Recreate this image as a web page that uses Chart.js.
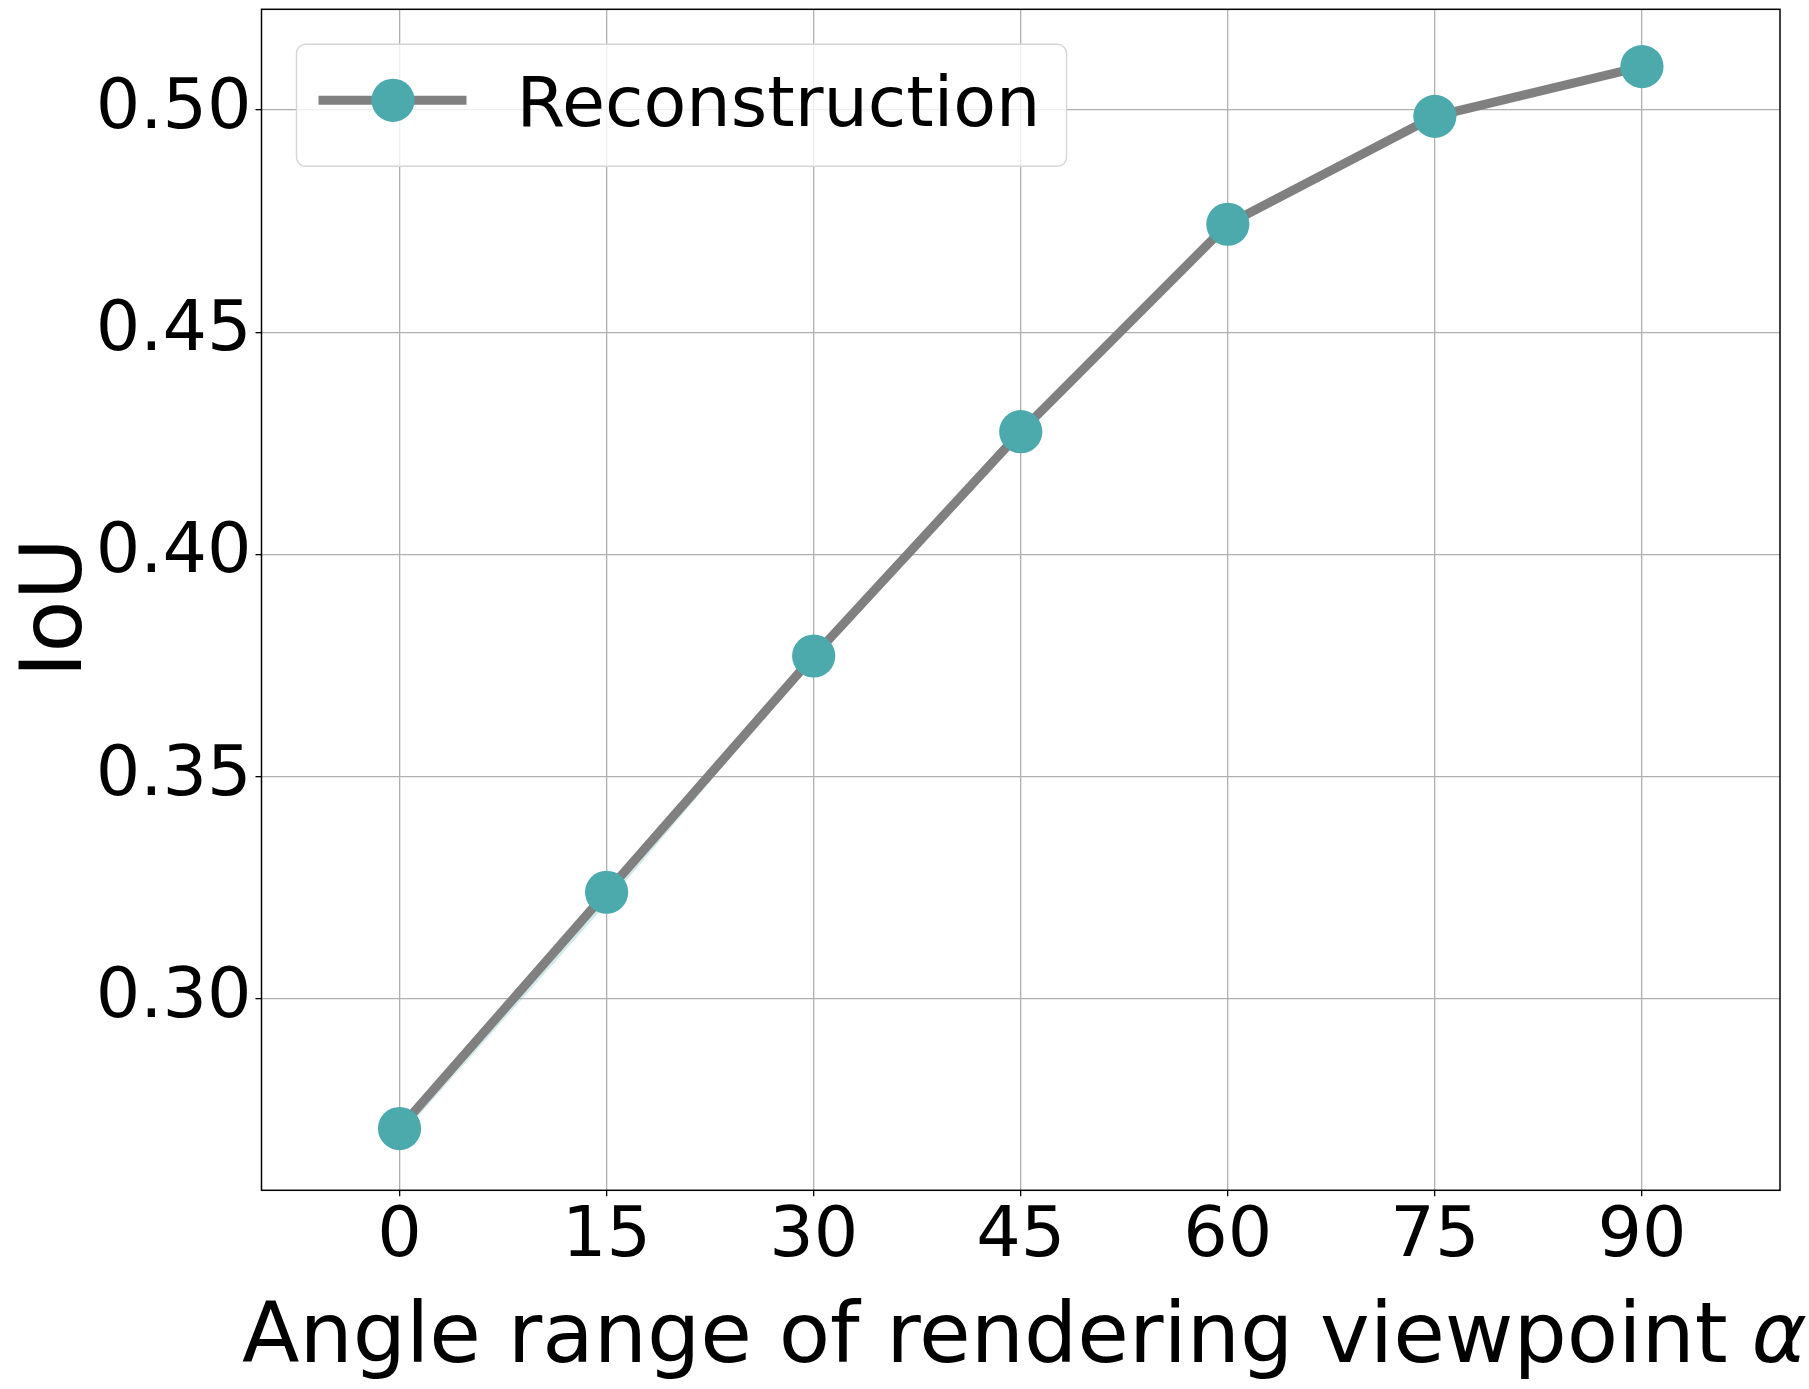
<!DOCTYPE html>
<html>
<head>
<meta charset="utf-8">
<script src="https://cdn.jsdelivr.net/npm/chart.js@4/dist/chart.umd.min.js"></script>
<style>
  html, body { margin: 0; padding: 0; background: #ffffff; }
  #wrap { width: 1809px; height: 1389px; }
</style>
</head>
<body>
<div id="wrap"><canvas id="c" width="1809" height="1389"></canvas></div>
<script>
// ---- data ----
const angles = [0, 15, 30, 45, 60, 75, 90];
const iou = [0.2707, 0.3239, 0.3771, 0.4276, 0.4743, 0.4986, 0.5098];
const bandHigh = [0.2707, 0.3239, 0.3771, 0.4276, 0.4743, 0.4986, 0.5098];
const bandLow = [0.2688, 0.3213, 0.3764, 0.4276, 0.4743, 0.4986, 0.5098];
const xTicks = [0, 15, 30, 45, 60, 75, 90];
const yTicks = [0.30, 0.35, 0.40, 0.45, 0.50];
const seriesLabel = 'Reconstruction';
const xTitleMain = 'Angle range of rendering viewpoint ';
const xTitleSymbol = '\u03B1';
const yTitle = 'IoU';

const FONT = "'DejaVu Sans', sans-serif";
const LINE_COLOR = '#808080';
const MARKER_COLOR = '#4CA9AC';

const pts = (ys) => angles.map((a, i) => ({ x: a, y: ys[i] }));

const frameLegendTitles = {
  id: 'frameLegendTitles',
  afterDraw(chart) {
    const ctx = chart.ctx;
    const ca = chart.chartArea;
    ctx.save();
    // full axes frame
    ctx.strokeStyle = '#000000';
    ctx.lineWidth = 1.5;
    ctx.strokeRect(ca.left, ca.top, ca.right - ca.left, ca.bottom - ca.top);

    // axis titles
    ctx.fillStyle = '#000000';
    ctx.textBaseline = 'alphabetic';
    const fMain = '84px ' + FONT;
    const fSym = 'italic 84px ' + FONT;
    ctx.font = fMain;
    const wMain = ctx.measureText(xTitleMain).width;
    const xStart = ca.left - 19.5;
    const xBase = ca.bottom + 171.4;
    ctx.textAlign = 'left';
    ctx.fillText(xTitleMain, xStart, xBase);
    ctx.font = fSym;
    ctx.fillText(xTitleSymbol, xStart + wMain - 3, xBase);

    ctx.save();
    ctx.translate(ca.left - 180.5, (ca.top + ca.bottom) / 2 + 8);
    ctx.rotate(-Math.PI / 2);
    ctx.font = '85px ' + FONT;
    ctx.textAlign = 'center';
    ctx.fillText(yTitle, 0, 0);
    ctx.restore();

    // legend
    const ds = chart.data.datasets[0];
    const bx = ca.left + 35, by = ca.top + 35, bw = 770, bh = 122, r = 9;
    ctx.beginPath();
    ctx.moveTo(bx + r, by);
    ctx.lineTo(bx + bw - r, by);
    ctx.arcTo(bx + bw, by, bx + bw, by + r, r);
    ctx.lineTo(bx + bw, by + bh - r);
    ctx.arcTo(bx + bw, by + bh, bx + bw - r, by + bh, r);
    ctx.lineTo(bx + r, by + bh);
    ctx.arcTo(bx, by + bh, bx, by + bh - r, r);
    ctx.lineTo(bx, by + r);
    ctx.arcTo(bx, by, bx + r, by, r);
    ctx.closePath();
    ctx.fillStyle = 'rgba(255,255,255,0.8)';
    ctx.fill();
    ctx.strokeStyle = '#d6d6d6';
    ctx.lineWidth = 1.4;
    ctx.stroke();

    const cy = by + 56;
    ctx.beginPath();
    ctx.moveTo(bx + 22, cy);
    ctx.lineTo(bx + 170, cy);
    ctx.strokeStyle = ds.borderColor;
    ctx.lineWidth = ds.borderWidth;
    ctx.stroke();
    ctx.beginPath();
    ctx.arc(bx + 96.5, cy, ds.pointRadius, 0, Math.PI * 2);
    ctx.fillStyle = ds.pointBackgroundColor;
    ctx.fill();

    ctx.fillStyle = '#000000';
    ctx.font = '70px ' + FONT;
    ctx.textAlign = 'left';
    ctx.textBaseline = 'alphabetic';
    ctx.fillText(ds.label, bx + 220, by + 82);
    ctx.restore();
  }
};

new Chart(document.getElementById('c'), {
  type: 'line',
  data: {
    datasets: [
      {
        label: seriesLabel,
        data: pts(iou),
        borderColor: LINE_COLOR,
        borderWidth: 9,
        pointRadius: 21.6,
        pointHoverRadius: 21.6,
        pointBackgroundColor: MARKER_COLOR,
        pointBorderColor: MARKER_COLOR,
        pointBorderWidth: 0,
        tension: 0,
        fill: false,
        clip: false
      },
      {
        label: 'bandHigh',
        data: pts(bandHigh),
        borderWidth: 0,
        borderColor: 'rgba(0,0,0,0)',
        pointRadius: 0,
        fill: '+1',
        backgroundColor: 'rgba(76,169,172,0.25)',
        tension: 0
      },
      {
        label: 'bandLow',
        data: pts(bandLow),
        borderWidth: 0,
        borderColor: 'rgba(0,0,0,0)',
        pointRadius: 0,
        fill: false,
        tension: 0
      }
    ]
  },
  options: {
    responsive: false,
    animation: false,
    devicePixelRatio: 1,
    layout: { autoPadding: false, padding: { top: 9.3, right: 29, left: 0, bottom: 0 } },
    plugins: { legend: { display: false }, tooltip: { enabled: false } },
    scales: {
      x: {
        type: 'linear',
        min: -10,
        max: 100,
        afterBuildTicks: (s) => { s.ticks = xTicks.map(v => ({ value: v })); },
        afterFit: (s) => { s.height = 198.7; s.paddingLeft = 0; s.paddingRight = 0; },
        ticks: {
          font: { family: FONT, size: 70 },
          color: '#000000',
          padding: 0,
          maxRotation: 0,
          autoSkip: false,
          callback: (v) => String(v)
        },
        grid: { color: '#b0b0b0', lineWidth: 1.3, tickColor: '#000000', tickLength: 6 },
        border: { display: false },
        title: { display: false, text: xTitleMain + xTitleSymbol }
      },
      y: {
        type: 'linear',
        min: 0.2568,
        max: 0.5227,
        afterBuildTicks: (s) => { s.ticks = yTicks.map(v => ({ value: v })); },
        afterFit: (s) => { s.width = 261.5; s.paddingTop = 0; s.paddingBottom = 0; },
        ticks: {
          font: { family: FONT, size: 70 },
          color: '#000000',
          padding: 4,
          autoSkip: false,
          callback: (v) => Number(v).toFixed(2)
        },
        grid: { color: '#b0b0b0', lineWidth: 1.3, tickColor: '#000000', tickLength: 6 },
        border: { display: false },
        title: { display: false, text: yTitle }
      }
    }
  },
  plugins: [frameLegendTitles]
});
</script>
</body>
</html>
